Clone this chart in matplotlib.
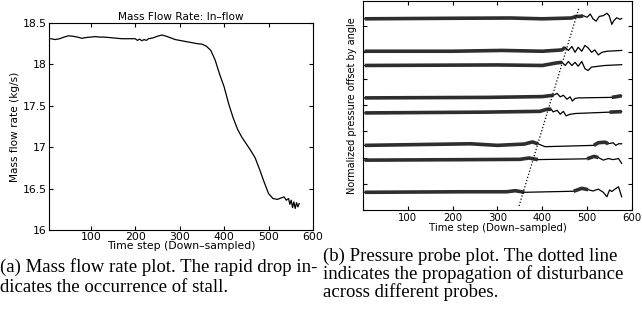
import numpy as np
import matplotlib
matplotlib.use("Agg")
import matplotlib.pyplot as plt

# ---- mass flow rate (left panel) ----
flow_steps = [10, 20, 30, 40, 50, 60, 70, 80, 90, 100, 110, 120, 130, 140, 150,
              160, 170, 180, 190, 200, 205, 210, 215, 220, 225, 230, 240, 250,
              260, 270, 280, 290, 300, 310, 320, 330, 340, 350, 360, 370, 380,
              390, 400, 410, 420, 430, 440, 450, 460, 470, 480, 490, 500, 510,
              520, 530, 535, 540, 545, 548, 551, 554, 557, 560, 563, 566, 569]
flow_rate = [18.31, 18.30, 18.31, 18.33, 18.345, 18.34, 18.33, 18.315, 18.325,
             18.33, 18.335, 18.33, 18.33, 18.325, 18.32, 18.315, 18.31, 18.31,
             18.31, 18.31, 18.29, 18.305, 18.285, 18.30, 18.29, 18.31, 18.32,
             18.34, 18.355, 18.34, 18.32, 18.30, 18.29, 18.28, 18.27, 18.26,
             18.25, 18.245, 18.22, 18.17, 18.05, 17.88, 17.73, 17.53, 17.36,
             17.22, 17.12, 17.04, 16.96, 16.87, 16.73, 16.58, 16.44, 16.38,
             16.37, 16.39, 16.40, 16.36, 16.38, 16.31, 16.36, 16.27, 16.34,
             16.26, 16.33, 16.28, 16.32]

# ---- pressure probes (right panel) ----
probe_offsets = [7.27, 6.04, 5.50, 4.27, 3.70, 2.47, 1.91, 0.69]

# (time step, deviation from offset) knots for each probe
probe_knots = [
    [(4, 0), (200, 0.02), (330, 0.03), (400, 0), (465, 0.03), (475, 0.09), (485, 0.09),
     (491, 0.12), (500, 0.06), (507, 0.18), (513, 0), (520, -0.09), (527, 0.09),
     (536, 0.12), (544, 0.21), (549, 0.12), (555, -0.21), (560, -0.06),
     (566, 0.04), (573, -0.02), (577, 0.01)],
    [(4, 0), (200, 0), (310, 0.03), (400, 0), (444, 0.05), (451, 0.15), (458, 0.03),
     (466, 0.18), (473, -0.04), (480, 0.15), (488, 0), (495, 0.22), (502, 0.13),
     (510, -0.04), (517, 0.05), (525, -0.14), (533, -0.04), (545, 0), (577, 0.03)],
    [(4, 0), (300, 0.02), (400, 0), (433, 0.1), (444, 0.12), (451, 0), (458, 0.15),
     (466, 0), (473, 0.12), (480, -0.03), (488, 0.15), (495, -0.12), (502, -0.19),
     (510, -0.06), (540, 0), (577, 0.03)],
    [(4, 0), (280, 0.02), (400, 0.05), (425, 0.1), (433, 0.17), (440, 0.04),
     (447, 0.1), (455, -0.05), (462, 0.04), (467, -0.12), (473, -0.02), (480, 0),
     (555, 0.02), (577, 0.08)],
    [(4, 0), (268, 0.03), (395, 0.06), (410, 0.14), (420, 0.14), (424, 0.04),
     (433, 0.1), (440, -0.05), (447, 0.06), (453, -0.11), (462, -0.05),
     (475, -0.02), (550, 0.03), (577, 0.05)],
    [(4, 0), (240, 0.06), (260, 0.04), (300, 0), (360, 0.05), (378, 0.13),
     (390, 0.06), (406, -0.05), (450, -0.03), (515, 0), (525, 0.1), (540, 0.12),
     (547, 0.06), (558, 0.1), (564, 0.0), (570, 0.06), (577, 0.06)],
    [(4, 0), (250, 0.02), (350, 0.03), (370, 0.08), (390, 0.02), (500, 0.05),
     (515, 0.14), (525, 0.1), (536, 0.0), (547, 0.06), (558, 0.02), (570, 0.06),
     (577, -0.12)],
    [(4, 0), (220, 0.02), (320, 0.02), (340, 0.06), (360, 0.0), (470, 0.04),
     (488, 0.15), (502, 0.1), (513, 0.05), (525, 0.12), (536, 0), (544, -0.17),
     (550, 0.09), (555, 0.03), (562, 0.12), (570, 0.21), (577, -0.17)],
]

# stretches of each trace that show up as a dense noisy band
noisy_spans = [
    [(4, 491)],
    [(4, 451)],
    [(4, 444)],
    [(4, 425), (555, 577)],
    [(4, 420), (550, 577)],
    [(4, 390), (515, 547)],
    [(4, 390), (500, 525)],
    [(4, 360), (470, 502)],
]

# dotted disturbance front
front_steps = [348, 482]
front_levels = [0.17, 7.7]

step_ticks = [100, 200, 300, 400, 500, 600]

plt.rcParams['font.family'] = ['DejaVu Sans']
plt.rcParams['xtick.direction'] = 'in'
plt.rcParams['ytick.direction'] = 'in'
plt.rcParams['xtick.top'] = True
plt.rcParams['ytick.right'] = True
plt.rcParams['xtick.major.size'] = 3
plt.rcParams['ytick.major.size'] = 3
plt.rcParams['axes.linewidth'] = 0.8

fig = plt.figure(figsize=(6.42, 3.22), dpi=100)

# left: mass flow rate
ax1 = fig.add_axes([0.0763, 0.2857, 0.4112, 0.6429])
ax1.plot(flow_steps, flow_rate, color='black', lw=0.9)
ax1.set_xlim(6, 600)
ax1.set_ylim(16, 18.5)
ax1.set_xticks(step_ticks)
ax1.set_yticks([16, 16.5, 17, 17.5, 18, 18.5])
ax1.set_yticklabels(['16', '16.5', '17', '17.5', '18', '18.5'])
ax1.tick_params(labelsize=7.8, pad=1.5)
ax1.set_title('Mass Flow Rate: In\u2013flow', fontsize=7.6, pad=2)
ax1.set_ylabel('Mass flow rate (kg/s)', fontsize=7.6, labelpad=2)
ax1.set_xlabel('Time step (Down\u2013sampled)', fontsize=7.8, labelpad=-1)

# right: pressure probes
ax2 = fig.add_axes([0.5654, 0.3463, 0.419, 0.651])
for off, knots, spans in zip(probe_offsets, probe_knots, noisy_spans):
    xs = np.array([k[0] for k in knots])
    ys = off + np.array([k[1] for k in knots])
    ax2.plot(xs, ys, color='black', lw=0.9)
    for a, b in spans:
        m = (xs >= a) & (xs <= b)
        ax2.plot(xs[m], ys[m], color='0.18', lw=2.6, solid_capstyle='butt')
ax2.plot(front_steps, front_levels, color='black', lw=0.9, ls=(0, (1, 1.6)))
ax2.set_xlim(0, 600)
ax2.set_ylim(0, 7.95)
ax2.set_xticks(step_ticks)
ax2.set_yticks(range(0, 8))
ax2.set_yticklabels([])
ax2.tick_params(labelsize=7.3, pad=1.5)
ax2.set_ylabel('Normalized pressure offset by angle', fontsize=7.0, labelpad=3)
ax2.set_xlabel('Time step (Down\u2013sampled)', fontsize=7.3, labelpad=0)

# captions
cap = dict(family=['Liberation Serif'], fontsize=13.5, va='center', ha='left')
fig.text(0.0, 1 - 267 / 322, '(a) Mass flow rate plot. The rapid drop in-', **cap)
fig.text(0.0, 1 - 287 / 322, 'dicates the occurrence of stall.', **cap)
fig.text(323 / 642, 1 - 256 / 322, '(b) Pressure probe plot. The dotted line', **cap)
fig.text(323 / 642, 1 - 274 / 322, 'indicates the propagation of disturbance', **cap)
fig.text(323 / 642, 1 - 292 / 322, 'across different probes.', **cap)

fig.savefig('out.png', dpi=100)
